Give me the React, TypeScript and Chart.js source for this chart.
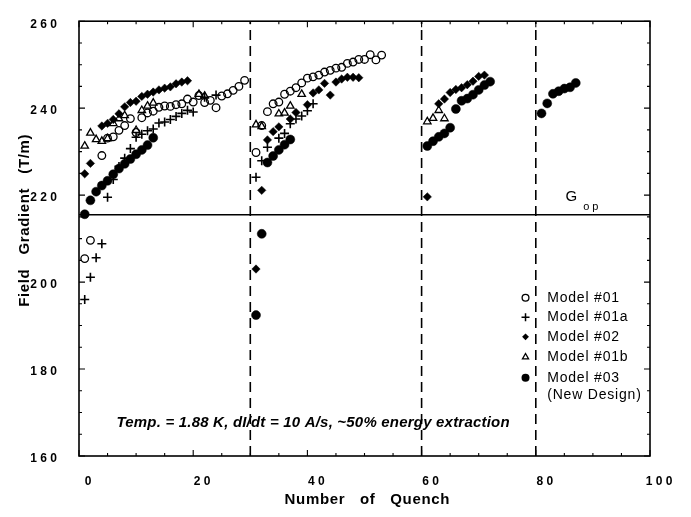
import React, { useEffect, useRef } from "react";
import { Chart, registerables } from "chart.js";

Chart.register(...registerables);

// ---- axis ticks ----
const xTickValues = [0, 20, 40, 60, 80, 100];
const yTickValues = [160, 180, 200, 220, 240, 260];

// ---- Model #01 (open circles) ----
const model01X = [1, 2, 4, 5, 6, 7, 8, 9, 10, 11, 12, 13, 14, 15, 16, 17, 18, 19, 20, 21, 22, 23, 24, 25, 26, 27, 28, 29,
  31, 32, 33, 34, 35, 36, 37, 38, 39, 40, 41, 42, 43, 44, 45, 46, 47, 48, 49, 50, 51, 52, 53];
const model01Y = [205.4, 209.6, 229.1, 233.1, 233.4, 234.9, 236.0, 237.6, 234.4, 237.8, 238.9, 239.3, 240.2, 240.5, 240.4, 240.8, 241.0, 242.1, 241.4, 242.9, 241.3, 241.8, 240.1, 242.8, 243.3, 244.1, 245.0, 246.4,
  229.8, 236.0, 239.2, 241.0, 241.4, 243.2, 243.9, 244.7, 245.8, 246.9, 247.2, 247.6, 248.3, 248.7, 249.2, 249.4, 250.3, 250.6, 251.2, 251.2, 252.3, 251.1, 252.2];

// ---- Model #01a (crosses) ----
const model01aX = [1, 2, 3, 4, 5, 6, 7, 8, 9, 10, 11, 12, 13, 14, 15, 16, 17, 18, 19, 20, 22, 24,
  31, 32, 33, 35, 36, 37, 38, 39, 40, 41];
const model01aY = [196.0, 201.1, 205.6, 208.8, 219.5, 223.6, 226.6, 228.5, 230.7, 233.3, 234.0, 234.8, 235.2, 236.6, 236.8, 237.4, 238.1, 238.8, 239.5, 239.1, 242.5, 243.0,
  224.1, 227.9, 231.0, 233.1, 234.2, 236.4, 237.5, 238.2, 239.4, 241.0];

// ---- Model #02 (filled diamonds) ----
const model02X = [1, 2, 4, 5, 6, 7, 8, 9, 10, 11, 12, 13, 14, 15, 16, 17, 18, 19,
  31, 32, 33, 34, 35, 37, 38, 40, 41, 42, 43, 44, 45, 46, 47, 48, 49,
  61, 63, 64, 65, 66, 67, 68, 69, 70, 71];
const model02Y = [224.9, 227.3, 235.9, 236.5, 237.4, 238.7, 240.3, 241.3, 241.6, 242.7, 243.2, 243.7, 244.2, 244.6, 244.9, 245.6, 246.0, 246.3,
  203.0, 221.1, 232.7, 234.6, 235.7, 237.5, 239.0, 240.8, 243.5, 244.2, 245.7, 243.0, 246.0, 246.7, 247.1, 247.1, 247.0,
  219.6, 241.0, 242.1, 243.6, 244.3, 244.7, 245.4, 246.2, 247.3, 247.6];

// ---- Model #01b (open triangles) ----
const model01bX = [1, 2, 3, 4, 5, 6, 7, 8, 10, 11, 12, 13, 21, 22,
  31, 32, 35, 36, 37, 39,
  61, 62, 63, 64];
const model01bY = [231.3, 234.3, 232.8, 232.4, 233.0, 236.5, 237.6, 238.3, 234.9, 239.5, 240.5, 241.2, 243.2, 242.8,
  236.2, 235.8, 238.7, 238.9, 240.5, 243.2,
  236.9, 237.7, 239.5, 237.6];

// ---- Model #03 New Design (filled circles) ----
const model03X = [1, 2, 3, 4, 5, 6, 7, 8, 9, 10, 11, 12, 13,
  31, 32, 33, 34, 35, 36, 37,
  61, 62, 63, 64, 65, 66, 67, 68, 69, 70, 71, 72,
  81, 82, 83, 84, 85, 86, 87];
const model03Y = [215.6, 218.8, 220.8, 222.2, 223.3, 224.8, 226.1, 227.2, 228.3, 229.4, 230.4, 231.5, 233.2,
  192.4, 211.1, 227.5, 229.0, 230.4, 231.6, 232.8,
  231.3, 232.4, 233.4, 234.2, 235.5, 239.8, 241.7, 242.2, 243.1, 244.2, 245.3, 246.1,
  238.8, 241.1, 243.3, 243.9, 244.5, 244.8, 245.8];

// ---- reference lines ----
const thermalCycles = [30, 60, 80];
const gOp = 215.5;

// ---- texts ----
const legendLabels = ["Model #01", "Model #01a", "Model #02", "Model #01b", "Model #03"];
const legendExtra = "(New Design)";
const noteText = "Temp. = 1.88 K, dI/dt = 10 A/s, ~50% energy extraction";
const xTitle = "Number   of   Quench";
const yTitle = "Field   Gradient   (T/m)";

const FONT = "'Liberation Sans', Arial, Helvetica, sans-serif";

const toPts = (xs: number[], ys: number[]) => xs.map((x, i) => ({ x, y: ys[i] }));
const spaced = (v: number | string) => String(v).split("").join(" ");

function drawSymbol(ctx: CanvasRenderingContext2D, kind: string, x: number, y: number, r: number) {
  ctx.save();
  ctx.strokeStyle = "#000";
  ctx.fillStyle = "#000";
  ctx.lineWidth = 1.3;
  ctx.beginPath();
  if (kind === "circle") {
    ctx.arc(x, y, r, 0, Math.PI * 2);
    ctx.stroke();
  } else if (kind === "cross") {
    ctx.lineWidth = 1.5;
    ctx.moveTo(x - r, y); ctx.lineTo(x + r, y);
    ctx.moveTo(x, y - r); ctx.lineTo(x, y + r);
    ctx.stroke();
  } else if (kind === "diamond") {
    ctx.moveTo(x, y - r); ctx.lineTo(x + r, y); ctx.lineTo(x, y + r); ctx.lineTo(x - r, y); ctx.closePath();
    ctx.fill();
  } else if (kind === "triangle") {
    ctx.moveTo(x, y - r); ctx.lineTo(x + r * 0.9, y + r * 0.6); ctx.lineTo(x - r * 0.9, y + r * 0.6); ctx.closePath();
    ctx.stroke();
  } else if (kind === "dot") {
    ctx.arc(x, y, r, 0, Math.PI * 2);
    ctx.fill();
  }
  ctx.restore();
}

const decorPlugin = {
  id: "decor",
  afterDatasetsDraw(chart: any) {
    const { ctx, chartArea: a, scales } = chart;
    const xs = scales.x;
    const ys = scales.y;
    ctx.save();
    ctx.strokeStyle = "#000";
    ctx.lineWidth = 1.6;
    ctx.strokeRect(a.left, a.top, a.right - a.left, a.bottom - a.top);
    ctx.lineWidth = 1.1;
    ctx.beginPath();
    for (let v = 0; v <= 100; v += 5) {
      const px = xs.getPixelForValue(v);
      const len = v % 20 === 0 ? 6 : 3;
      ctx.moveTo(px, a.bottom); ctx.lineTo(px, a.bottom - len);
      ctx.moveTo(px, a.top); ctx.lineTo(px, a.top + len);
    }
    for (let v = 160; v <= 260; v += 5) {
      const py = ys.getPixelForValue(v);
      const len = v % 20 === 0 ? 6 : 3;
      ctx.moveTo(a.left, py); ctx.lineTo(a.left + len, py);
      ctx.moveTo(a.right, py); ctx.lineTo(a.right - len, py);
    }
    ctx.stroke();
    ctx.restore();
  },
  afterDraw(chart: any) {
    const { ctx, scales, chartArea: a } = chart;
    const xs = scales.x;
    const ys = scales.y;
    ctx.save();
    ctx.fillStyle = "#000";
    // y-axis title
    ctx.save();
    ctx.font = `bold 15px ${FONT}`;
    (ctx as any).letterSpacing = "0.6px";
    ctx.textAlign = "center";
    ctx.textBaseline = "middle";
    ctx.translate(25, ys.getPixelForValue(214.2));
    ctx.rotate(-Math.PI / 2);
    ctx.fillText(yTitle, 0, 0);
    ctx.restore();
    // x-axis title
    ctx.save();
    ctx.font = `bold 15px ${FONT}`;
    (ctx as any).letterSpacing = "0.7px";
    ctx.textAlign = "center";
    ctx.textBaseline = "middle";
    ctx.fillText(xTitle, xs.getPixelForValue(50.5), a.bottom + 44);
    ctx.restore();
    // note text
    ctx.save();
    ctx.font = `italic bold 15px ${FONT}`;
    (ctx as any).letterSpacing = "0.2px";
    ctx.textAlign = "center";
    ctx.textBaseline = "middle";
    ctx.fillText(noteText, xs.getPixelForValue(41), ys.getPixelForValue(167.6));
    ctx.restore();
    // G_op label
    ctx.textBaseline = "middle";
    ctx.font = `15px ${FONT}`;
    ctx.textAlign = "left";
    ctx.fillText("G", xs.getPixelForValue(85.2), ys.getPixelForValue(219.5));
    ctx.font = `11px ${FONT}`;
    ctx.fillText("o p", xs.getPixelForValue(88.3), ys.getPixelForValue(217.3));
    // legend
    const kinds = ["circle", "cross", "diamond", "triangle", "dot"];
    const symX = xs.getPixelForValue(78.2);
    const txtX = xs.getPixelForValue(82);
    const rowY = [196.4, 191.9, 187.4, 182.8, 178.0];
    ctx.save();
    ctx.font = `14px ${FONT}`;
    (ctx as any).letterSpacing = "0.8px";
    legendLabels.forEach((lab, i) => {
      const py = ys.getPixelForValue(rowY[i]);
      drawSymbol(ctx, kinds[i], symX, py, kinds[i] === "cross" ? 4 : kinds[i] === "dot" ? 4 : 3.4);
      ctx.fillText(lab, txtX, py);
    });
    ctx.fillText(legendExtra, txtX, ys.getPixelForValue(174.1));
    ctx.restore();
    ctx.restore();
  },
};

export default function App() {
  const ref = useRef<HTMLCanvasElement | null>(null);
  useEffect(() => {
    document.body.style.margin = "0";
    const canvas = ref.current;
    if (!canvas) return;
    const base = { showLine: false, borderColor: "#000", pointBorderColor: "#000" };
    const datasets: any[] = [
      ...thermalCycles.map((c) => ({
        data: [{ x: c, y: 160 }, { x: c, y: 260 }],
        showLine: true, borderColor: "#000", borderWidth: 1.6, borderDash: [10, 6], pointRadius: 0,
      })),
      {
        data: [{ x: 0, y: gOp }, { x: 100, y: gOp }],
        showLine: true, borderColor: "#000", borderWidth: 1.4, pointRadius: 0,
      },
      { ...base, label: legendLabels[0], data: toPts(model01X, model01Y), pointStyle: "circle", pointRadius: 3.8, pointBorderWidth: 1.3, pointBackgroundColor: "rgba(255,255,255,0)" },
      { ...base, label: legendLabels[1], data: toPts(model01aX, model01aY), pointStyle: "cross", pointRadius: 4.5, pointBorderWidth: 1.6 },
      { ...base, label: legendLabels[2], data: toPts(model02X, model02Y), pointStyle: "rectRot", pointRadius: 4.2, pointBorderWidth: 0.5, pointBackgroundColor: "#000" },
      { ...base, label: legendLabels[3], data: toPts(model01bX, model01bY), pointStyle: "triangle", pointRadius: 4.3, pointBorderWidth: 1.3, pointBackgroundColor: "rgba(255,255,255,0)" },
      { ...base, label: legendLabels[4], data: toPts(model03X, model03Y), pointStyle: "circle", pointRadius: 4.5, pointBorderWidth: 0.5, pointBackgroundColor: "#000" },
    ];
    const chart = new Chart(canvas, {
      type: "scatter",
      data: { datasets },
      plugins: [decorPlugin],
      options: {
        animation: false,
        responsive: false,
        maintainAspectRatio: false,
        layout: { padding: { left: 0, right: 41, top: 14, bottom: 0 } },
        plugins: { legend: { display: false }, tooltip: { enabled: false } },
        scales: {
          x: {
            type: "linear",
            min: 0,
            max: 100,
            afterBuildTicks: (s: any) => { s.ticks = xTickValues.map((v) => ({ value: v })); },
            afterFit: (s: any) => { s.height = 61; },
            grid: { display: false },
            border: { display: false },
            ticks: { callback: (v: any) => spaced(v), color: "#000", font: { family: FONT, size: 12, weight: "bold" }, padding: 10, labelOffset: 9, maxRotation: 0, autoSkip: false },
            title: { display: false },
          },
          y: {
            type: "linear",
            min: 160,
            max: 260,
            afterBuildTicks: (s: any) => { s.ticks = yTickValues.map((v) => ({ value: v })); },
            afterFit: (s: any) => { s.width = 79; },
            grid: { display: false },
            border: { display: false },
            ticks: { callback: (v: any) => spaced(v), color: "#000", font: { family: FONT, size: 12, weight: "bold" }, padding: 14, labelOffset: 3, autoSkip: false },
            title: { display: false },
          },
        },
      } as any,
    });
    return () => chart.destroy();
  }, []);
  return (
    <div style={{ width: 691, height: 517, background: "#fff" }}>
      <canvas ref={ref} width={691} height={517} style={{ display: "block" }} />
    </div>
  );
}
